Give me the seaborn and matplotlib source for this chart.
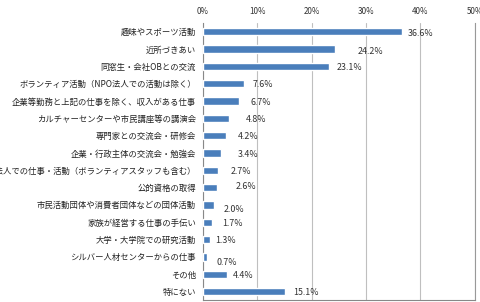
import numpy as np
import pandas as pd
import matplotlib
matplotlib.use("Agg")
import matplotlib.pyplot as plt
from matplotlib.ticker import FixedLocator, PercentFormatter
import seaborn as sns

categories = [
    "趣味やスポーツ活動",
    "近所づきあい",
    "同窓生・会社OBとの交流",
    "ボランティア活動（NPO法人での活動は除く）",
    "企業等勤務と上記の仕事を除く、収入がある仕事",
    "カルチャーセンターや市民講座等の講演会",
    "専門家との交流会・研修会",
    "企業・行政主体の交流会・勉強会",
    "NPO法人での仕事・活動（ボランティアスタッフも含む）",
    "公的資格の取得",
    "市民活動団体や消費者団体などの団体活動",
    "家族が経営する仕事の手伝い",
    "大学・大学院での研究活動",
    "シルバー人材センターからの仕事",
    "その他",
    "特にない",
]
values = [36.6, 24.2, 23.1, 7.6, 6.7, 4.8, 4.2, 3.4, 2.7, 2.6, 2.0, 1.7, 1.3, 0.7, 4.4, 15.1]
x_ticks = [0, 10, 20, 30, 40, 50]

# label offsets (points) as placed in the original chart
label_dx = [4, 17, 6, 6, 8, 12, 9, 12, 9, 13, 7, 7, 4, 7, 4, 6]
label_dy = [-1, -2, -1, -1, -1, -1, -1, -1, -1, 1, -3, -1, -1, -4, -1, -1]

df = pd.DataFrame({"category": categories, "value": values})

sns.set_style("white")
plt.rcParams["font.family"] = ["Noto Sans CJK JP", "DejaVu Sans"]

fig = plt.figure(figsize=(4.81, 3.02), dpi=100)
ax = fig.add_axes([0.422, 0.006, 0.565, 0.918])

sns.barplot(data=df, x="value", y="category", orient="h", color="#4a7ebb",
            saturation=1, width=0.42, ax=ax, zorder=3)

ax.set_xlim(0, 50)
ax.set_ylim(len(categories) - 0.5, -0.5)
ax.xaxis.tick_top()
ax.xaxis.set_major_locator(FixedLocator(x_ticks))
ax.xaxis.set_major_formatter(PercentFormatter(decimals=0))
ax.tick_params(axis="x", length=0, labelsize=5.8, pad=5, colors="#333333")
ax.tick_params(axis="y", length=0, labelsize=6.0, pad=5, colors="#222222")
ax.set_xlabel("")
ax.set_ylabel("")
ax.grid(axis="x", color="#bfbfbf", linewidth=0.8, zorder=0)

# small category separator ticks on the left axis
ax.yaxis.set_minor_locator(FixedLocator(np.arange(-0.5, len(categories), 1)))
ax.tick_params(axis="y", which="minor", length=3, color="#888888", width=0.6)

for sp in ["left", "bottom"]:
    ax.spines[sp].set_color("#888888")
    ax.spines[sp].set_linewidth(0.8)
ax.spines["right"].set_color("#999999")
ax.spines["right"].set_linewidth(0.8)
ax.spines["top"].set_visible(False)

for i, v in enumerate(values):
    ax.annotate(f"{v:.1f}%", xy=(v, i), xytext=(label_dx[i], label_dy[i]),
                textcoords="offset points", va="center", ha="left",
                fontsize=6.4, color="#333333")

fig.savefig("out.png", dpi=100)
